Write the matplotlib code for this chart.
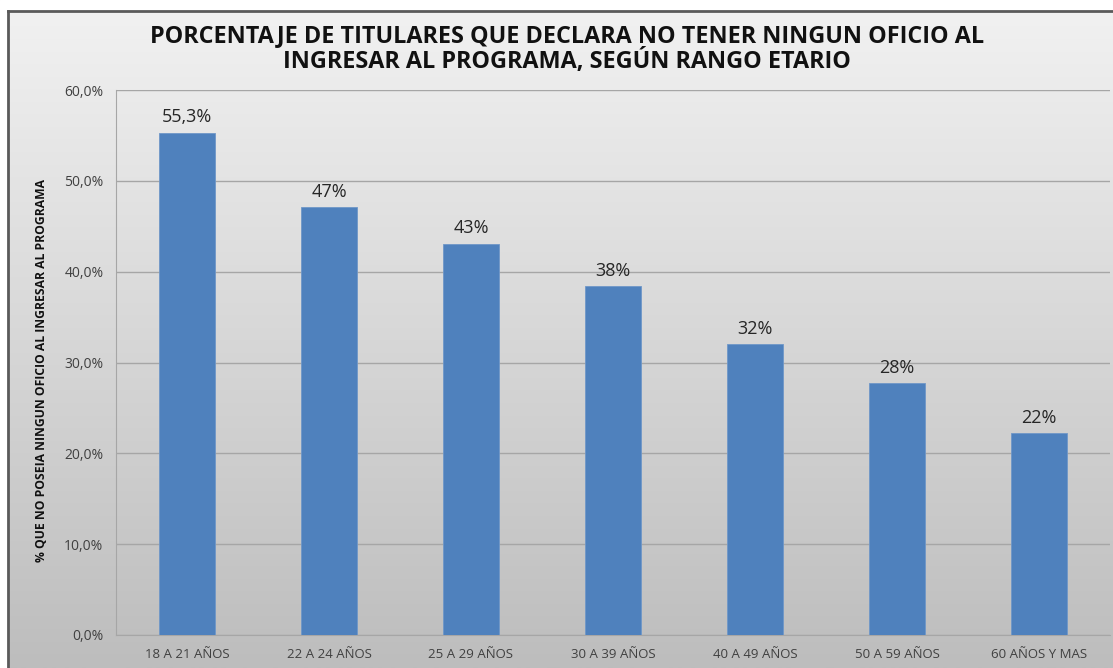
import numpy as np
import matplotlib
matplotlib.use("Agg")
import matplotlib.pyplot as plt
from matplotlib.colors import LinearSegmentedColormap
from matplotlib.lines import Line2D

categories = ["18 A 21 AÑOS", "22 A 24 AÑOS", "25 A 29 AÑOS", "30 A 39 AÑOS",
              "40 A 49 AÑOS", "50 A 59 AÑOS", "60 AÑOS Y MAS"]
values = [55.3, 47.1, 43.1, 38.4, 32.0, 27.7, 22.2]
value_labels = ["55,3%", "47%", "43%", "38%", "32%", "28%", "22%"]
yticks = [0, 10, 20, 30, 40, 50, 60]
ytick_labels = ["0,0%", "10,0%", "20,0%", "30,0%", "40,0%", "50,0%", "60,0%"]

plt.rcParams['font.family'] = ['Open Sans', 'DejaVu Sans']

W, H = 1113, 668
fig = plt.figure(figsize=(W / 100, H / 100), dpi=100)
fig.patch.set_facecolor("#e0e0e0")

# background gradient inside chart frame (frame starts at x=8, y=11 px)
bg = fig.add_axes([0, 0, 1, 1], zorder=-1)
bg.axis("off")
cmap = LinearSegmentedColormap.from_list("g", ["#f2f2f2", "#bdbdbd"])
grad = np.linspace(0, 1, 256).reshape(-1, 1)
bg.imshow(grad, cmap=cmap, aspect="auto", extent=(0, 1, 0, 1), interpolation="bilinear")
bg.add_patch(plt.Rectangle((0, 0), 8 / W, 1, color="white", transform=bg.transAxes))
bg.add_patch(plt.Rectangle((0, 1 - 11 / H), 1, 11 / H, color="white", transform=bg.transAxes))
bg.set_xlim(0, 1)
bg.set_ylim(0, 1)
fig.add_artist(Line2D([8 / W, 8 / W], [0, 1 - 11 / H], color="#5a5a5a", lw=2))
fig.add_artist(Line2D([8 / W, 1], [1 - 11 / H, 1 - 11 / H], color="#5a5a5a", lw=2))

ax = fig.add_axes([116 / W, (H - 635) / H, (1110 - 116) / W, (635 - 90) / H])
ax.set_facecolor("none")
x = np.arange(len(categories))
bars = ax.bar(x, values, width=0.4, color="#4f81bd", edgecolor="#6f97c8", lw=0.6, zorder=3)
for xi, v, lab in zip(x, values, value_labels):
    ax.text(xi, v + 0.7, lab, ha="center", va="bottom", fontsize=13, color="#262626")

ax.set_xlim(-0.5, len(categories) - 0.5)
ax.set_ylim(0, 60)
ax.set_yticks(yticks)
ax.set_yticklabels(ytick_labels, fontsize=10, color="#404040")
ax.set_xticks(x)
ax.set_xticklabels(categories, fontsize=9.5, color="#404040")
ax.tick_params(axis="y", length=0, pad=9)
ax.tick_params(axis="x", length=0, pad=9)
ax.yaxis.grid(True, color="#a6a6a6", lw=1, zorder=0)
for s in ["top", "right"]:
    ax.spines[s].set_visible(False)
ax.spines["left"].set_color("#a6a6a6")
ax.spines["bottom"].set_color("#a6a6a6")

fig.text(567 / W, 1 - 49 / H, "PORCENTAJE DE TITULARES QUE DECLARA NO TENER NINGUN OFICIO AL\nINGRESAR AL PROGRAMA, SEGÚN RANGO ETARIO",
         ha="center", va="center", fontsize=16.8, fontweight="bold", color="#111111", linespacing=1.05)
fig.text(42 / W, 1 - 370 / H, "% QUE NO POSEIA NINGUN OFICIO AL INGRESAR AL PROGRAMA",
         ha="center", va="center", rotation=90, fontsize=8.7, fontweight="bold", color="#111111")

fig.savefig("out.png", dpi=100, facecolor="white")
